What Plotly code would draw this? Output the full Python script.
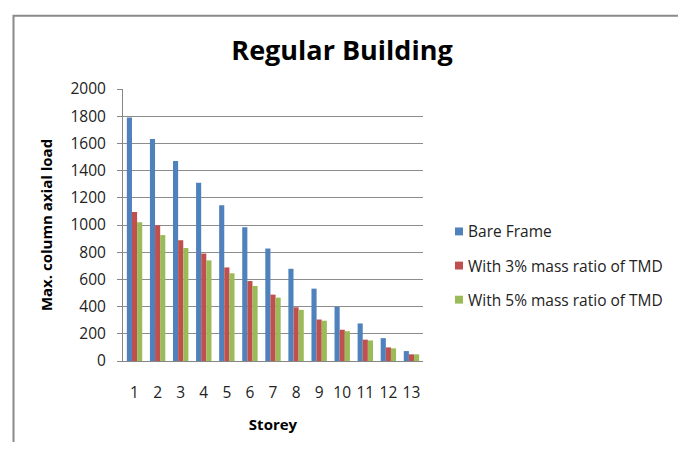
import plotly.graph_objects as go

storeys = ["1", "2", "3", "4", "5", "6", "7", "8", "9", "10", "11", "12", "13"]
bare_frame = [1790, 1632, 1470, 1310, 1145, 983, 827, 678, 532, 398, 276, 168, 73]
tmd_3 = [1095, 998, 888, 790, 688, 588, 488, 395, 305, 230, 157, 100, 49]
tmd_5 = [1020, 926, 831, 740, 645, 552, 466, 376, 296, 219, 151, 93, 49]

names = ["Bare Frame", "With 3% mass ratio of TMD", "With 5% mass ratio of TMD"]
colors = ["#4F81BD", "#C0504D", "#9BBB59"]
series = [bare_frame, tmd_3, tmd_5]

FONT = "Open Sans"
OFF = 8  # page body margin

W, H = 686 - 2 * OFF, 450 - 2 * OFF
L, R, T, B = 123 - OFF, 423 - OFF, 89 - OFF, 364 - OFF
pw, ph = R - L, B - T


def px(x):
    return (x - OFF - L) / pw


def py(y):
    return (B - (y - OFF)) / ph


fig = go.Figure()
for n, c, v in zip(names, colors, series):
    fig.add_trace(go.Bar(x=storeys, y=v, name=n, marker=dict(color=c, line=dict(width=0)),
                         showlegend=False))

# custom legend (small squares like the original)
shapes = [dict(type="rect", xref="paper", yref="paper",
               x0=px(13.5), x1=px(679.5), y0=py(470), y1=py(15),
               line=dict(color="#8a8a8a", width=2), fillcolor="rgba(0,0,0,0)", layer="below")]
annotations = []
leg_y = [233, 267.5, 302]
for n, c, yc in zip(names, colors, leg_y):
    shapes.append(dict(type="rect", xref="paper", yref="paper",
                       x0=px(455), x1=px(463), y0=py(yc + 4), y1=py(yc - 4),
                       line=dict(width=0), fillcolor=c))
    annotations.append(dict(text=n, xref="paper", yref="paper", x=px(466), y=py(yc),
                            xanchor="left", yanchor="middle", showarrow=False,
                            font=dict(family=FONT, size=15.5, color="#222")))

fig.update_layout(
    width=W, height=H,
    margin=dict(l=L, r=W - R, t=T, b=H - B, pad=0),
    paper_bgcolor="white", plot_bgcolor="white",
    barmode="group", bargap=0.333, bargroupgap=0,
    font=dict(family=FONT, color="#222", size=15.5),
    title=dict(text="<b>Regular Building</b>", x=(342 - OFF) / W, xref="container",
               xanchor="center", y=1 - (51 - OFF) / H, yanchor="middle",
               font=dict(family=FONT, size=27, color="#000")),
    showlegend=False,
    xaxis=dict(showgrid=False, showline=True, linecolor="#868686", linewidth=1,
               ticks="", ticklabelstandoff=17,
               tickfont=dict(family=FONT, size=15.5, color="#222"),
               title=dict(text="<b>Storey</b>", font=dict(family=FONT, size=15, color="#000"),
                          standoff=17)),
    yaxis=dict(range=[0, 2000], dtick=200, showgrid=True, gridcolor="#8c8c8c", gridwidth=1,
               showline=True, linecolor="#868686", linewidth=1, ticks="outside", ticklen=5,
               tickcolor="#868686", zeroline=False, ticklabelstandoff=8,
               tickfont=dict(family=FONT, size=15.5, color="#222"),
               title=dict(text="<b>Max. column axial load</b>",
                          font=dict(family=FONT, size=15, color="#000"), standoff=14)),
    shapes=shapes,
    annotations=annotations,
)

fig.write_html("out.html")
